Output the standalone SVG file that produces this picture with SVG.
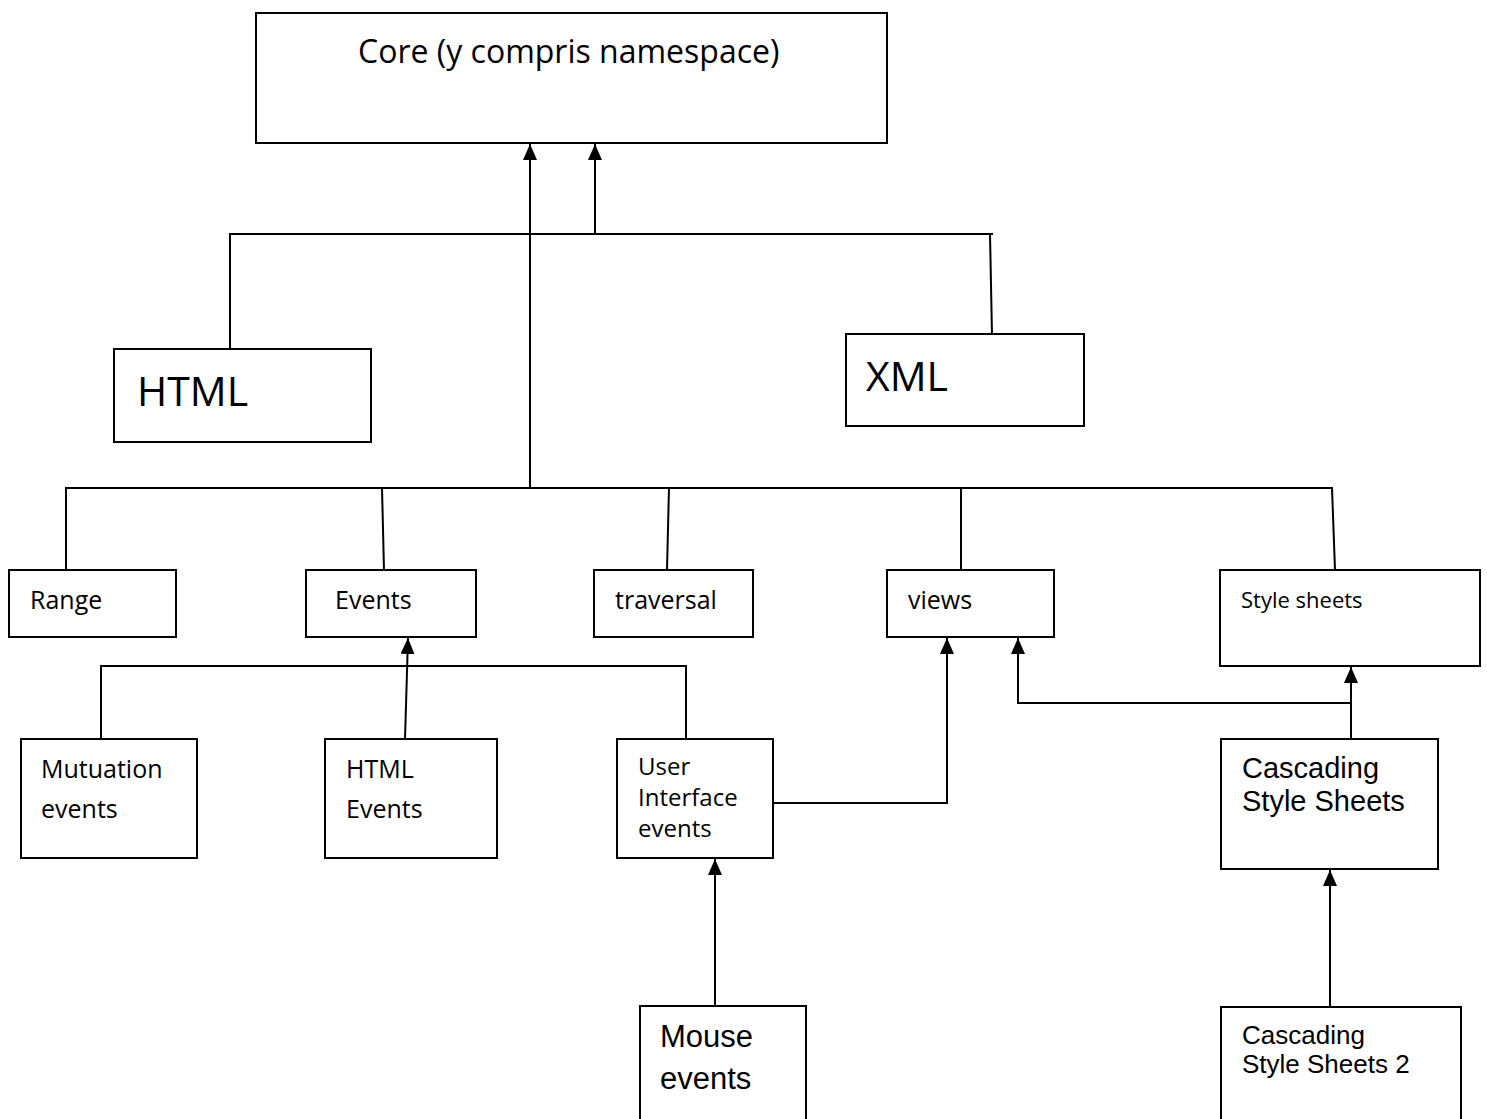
<svg xmlns="http://www.w3.org/2000/svg" width="1487" height="1119" viewBox="0 0 1487 1119">
  <style>
    .box { fill: #ffffff; stroke: #000000; stroke-width: 2; }
    .ln { fill: none; stroke: #000000; stroke-width: 2; }
    .cal { font-family: "Open Sans", Lato, sans-serif; fill: #000000; }
    .ari { font-family: "Liberation Sans", Arial, sans-serif; fill: #000000; }
  </style>
  <defs>
    <!-- filled triangular head, tip at the end of the line -->
    <marker id="arrow" markerUnits="userSpaceOnUse" markerWidth="16" markerHeight="14" viewBox="0 0 16 14" refX="16" refY="7" orient="auto">
      <path d="M0,0 L16,7 L0,14 Z" fill="#000000"/>
    </marker>
  </defs>
  <rect width="1487" height="1119" fill="#ffffff"/>

  <!-- connectors -->
  <g id="connectors">
    <!-- HTML / XML to Core -->
    <polyline class="ln" points="230,349 230,234 993,234"/>
    <polyline class="ln" points="992,335 990,234"/>
    <line class="ln" x1="595" y1="234" x2="595" y2="144" marker-end="url(#arrow)"/>
    <!-- module bus to Core -->
    <line class="ln" x1="530" y1="488" x2="530" y2="144" marker-end="url(#arrow)"/>
    <polyline class="ln" points="66,570 66,488 1333,488"/>
    <line class="ln" x1="382" y1="488" x2="384" y2="570"/>
    <line class="ln" x1="669" y1="488" x2="667" y2="570"/>
    <line class="ln" x1="961" y1="488" x2="961" y2="570"/>
    <line class="ln" x1="1332" y1="488" x2="1335" y2="570"/>
    <!-- event modules to Events -->
    <polyline class="ln" points="101,739 101,666 686,666 686,739"/>
    <line class="ln" x1="405" y1="739" x2="408" y2="638" marker-end="url(#arrow)"/>
    <!-- User Interface events to views -->
    <polyline class="ln" points="773,803 947,803 947,638" marker-end="url(#arrow)"/>
    <!-- CSS to views and Style sheets -->
    <polyline class="ln" points="1351,703 1018,703 1018,638" marker-end="url(#arrow)"/>
    <line class="ln" x1="1351" y1="739" x2="1351" y2="667" marker-end="url(#arrow)"/>
    <!-- Mouse events to User Interface events -->
    <line class="ln" x1="715" y1="1006" x2="715" y2="859" marker-end="url(#arrow)"/>
    <!-- CSS2 to CSS -->
    <line class="ln" x1="1330" y1="1007" x2="1330" y2="870" marker-end="url(#arrow)"/>
  </g>

  <g id="core">
    <rect class="box" x="256" y="13" width="631" height="130"/>
    <text class="cal" x="358" y="63" font-size="32">Core (y compris namespace)</text>
  </g>
  <g id="html">
    <rect class="box" x="114" y="349" width="257" height="93"/>
    <text class="cal" x="137" y="406" font-size="41">HTML</text>
  </g>
  <g id="xml">
    <rect class="box" x="846" y="334" width="238" height="92"/>
    <text class="cal" x="866" y="391" font-size="41">XML</text>
  </g>
  <g id="range">
    <rect class="box" x="9" y="570" width="167" height="67"/>
    <text class="cal" x="30" y="609" font-size="25">Range</text>
  </g>
  <g id="events">
    <rect class="box" x="306" y="570" width="170" height="67"/>
    <text class="cal" x="335" y="609" font-size="25">Events</text>
  </g>
  <g id="traversal">
    <rect class="box" x="594" y="570" width="159" height="67"/>
    <text class="cal" x="615" y="609" font-size="25">traversal</text>
  </g>
  <g id="views">
    <rect class="box" x="887" y="570" width="167" height="67"/>
    <text class="cal" x="908" y="609" font-size="25">views</text>
  </g>
  <g id="style-sheets">
    <rect class="box" x="1220" y="570" width="260" height="96"/>
    <text class="cal" x="1241" y="608" font-size="22">Style sheets</text>
  </g>
  <g id="mutation-events">
    <rect class="box" x="21" y="739" width="176" height="119"/>
    <text class="cal" x="41" y="778" font-size="25">Mutuation</text>
    <text class="cal" x="41" y="818" font-size="25">events</text>
  </g>
  <g id="html-events">
    <rect class="box" x="325" y="739" width="172" height="119"/>
    <text class="cal" x="346" y="778" font-size="25">HTML</text>
    <text class="cal" x="346" y="818" font-size="25">Events</text>
  </g>
  <g id="ui-events">
    <rect class="box" x="617" y="739" width="156" height="119"/>
    <text class="cal" x="638" y="775" font-size="24">User</text>
    <text class="cal" x="638" y="806" font-size="24">Interface</text>
    <text class="cal" x="638" y="837" font-size="24">events</text>
  </g>
  <g id="css">
    <rect class="box" x="1221" y="739" width="217" height="130"/>
    <text class="ari" x="1242" y="778" font-size="29">Cascading</text>
    <text class="ari" x="1242" y="811" font-size="29">Style Sheets</text>
  </g>
  <g id="mouse-events">
    <rect class="box" x="640" y="1006" width="166" height="120"/>
    <text class="ari" x="660" y="1047" font-size="31">Mouse</text>
    <text class="ari" x="660" y="1089" font-size="31">events</text>
  </g>
  <g id="css2">
    <rect class="box" x="1221" y="1007" width="240" height="120"/>
    <text class="ari" x="1242" y="1044" font-size="26">Cascading</text>
    <text class="ari" x="1242" y="1073" font-size="26">Style Sheets 2</text>
  </g>
</svg>
